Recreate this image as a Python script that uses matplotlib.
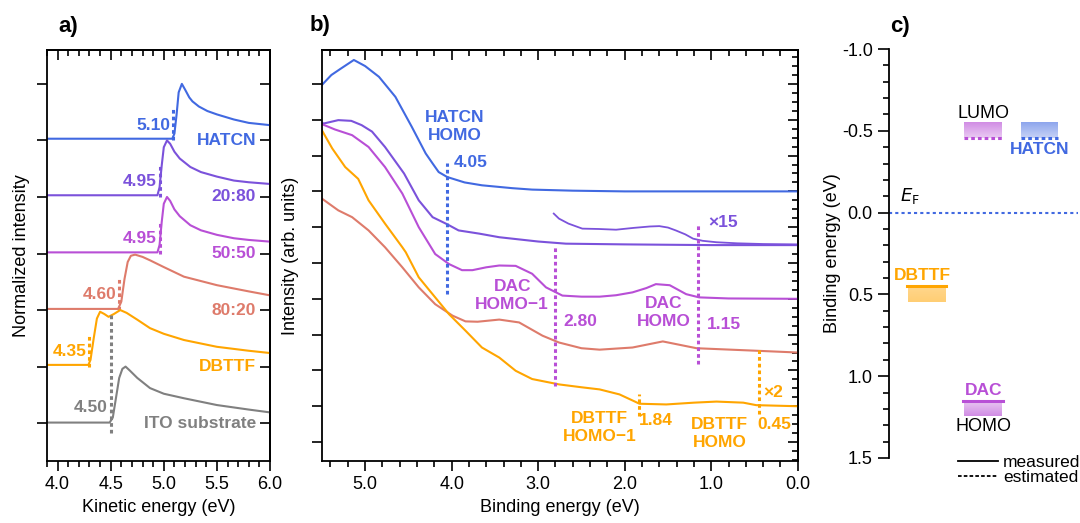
import numpy as np
import matplotlib
matplotlib.use("Agg")
import matplotlib.pyplot as plt
from matplotlib import colors
from matplotlib.lines import Line2D
from matplotlib.ticker import MultipleLocator, FormatStrFormatter

plt.rcParams['font.family'] = ['Liberation Sans', 'DejaVu Sans']
plt.rcParams['font.size'] = 13
plt.rcParams['axes.unicode_minus'] = False
plt.rcParams['axes.linewidth'] = 1.3

# colours
c_hatcn = '#4169E1'
c_2080 = '#7B52DB'
c_5050 = '#B84FD6'
c_8020 = '#DE7B6B'
c_dbttf = '#FFA500'
c_ito = '#808080'

# ---- panel a: secondary electron cutoff (kinetic energy, normalised, offset) ----
names_a = ['HATCN', '20:80', '50:50', '80:20', 'DBTTF', 'ITO substrate']
colors_a = [c_hatcn, c_2080, c_5050, c_8020, c_dbttf, c_ito]
offsets_a = [5, 4, 3, 2, 1, 0]
cutoff_labels = ['5.10', '4.95', '4.95', '4.60', '4.35', '4.50']
cutoff_x = [5.09, 4.965, 4.965, 4.58, 4.30, 4.50]

ke_hatcn = [3.9, 5.08, 5.10, 5.12, 5.14, 5.17, 5.20, 5.24, 5.27, 5.33, 5.41, 5.5, 5.66, 5.8, 6.0]
int_hatcn = [0.03, 0.03, 0.12, 0.45, 0.85, 1.0, 0.9, 0.76, 0.69, 0.6, 0.52, 0.46, 0.37, 0.31, 0.27]
ke_2080 = [3.9, 4.94, 4.96, 4.98, 5.00, 5.03, 5.06, 5.10, 5.15, 5.25, 5.35, 5.5, 5.66, 5.8, 6.0]
int_2080 = [0.03, 0.03, 0.17, 0.55, 0.88, 1.0, 0.94, 0.8, 0.68, 0.53, 0.44, 0.36, 0.29, 0.26, 0.23]
ke_5050 = [3.9, 4.94, 4.96, 4.98, 5.00, 5.03, 5.06, 5.10, 5.15, 5.25, 5.35, 5.5, 5.66, 5.8, 6.0]
int_5050 = [0.02, 0.02, 0.15, 0.55, 0.88, 1.0, 0.93, 0.78, 0.66, 0.5, 0.41, 0.33, 0.27, 0.24, 0.21]
ke_8020 = [3.9, 4.57, 4.60, 4.63, 4.66, 4.69, 4.73, 4.80, 4.87, 5.0, 5.19, 5.5, 5.8, 6.0]
int_8020 = [0.02, 0.02, 0.15, 0.55, 0.85, 0.96, 0.98, 0.94, 0.88, 0.76, 0.59, 0.44, 0.33, 0.26]
ke_dbttf = [3.9, 4.29, 4.31, 4.34, 4.37, 4.40, 4.44, 4.48, 4.53, 4.59, 4.65, 4.75, 4.87, 5.0, 5.19, 5.5, 5.8, 6.0]
int_dbttf = [0.03, 0.03, 0.12, 0.5, 0.85, 0.97, 0.93, 0.88, 0.93, 1.0, 0.95, 0.83, 0.68, 0.58, 0.47, 0.35, 0.28, 0.24]
ke_ito = [3.9, 4.49, 4.52, 4.55, 4.58, 4.61, 4.64, 4.68, 4.75, 4.87, 5.0, 5.19, 5.5, 5.8, 6.0]
int_ito = [0.01, 0.01, 0.1, 0.45, 0.8, 0.96, 1.0, 0.93, 0.8, 0.62, 0.52, 0.44, 0.32, 0.24, 0.19]

ke_all = [ke_hatcn, ke_2080, ke_5050, ke_8020, ke_dbttf, ke_ito]
int_all = [int_hatcn, int_2080, int_5050, int_8020, int_dbttf, int_ito]

# ---- panel b: valence region (binding energy, offset) ----
be_hatcn = [5.5, 5.39, 5.28, 5.13, 5.0, 4.84, 4.65, 4.46, 4.38, 4.30, 4.22, 4.15, 4.05, 3.85, 3.65, 3.3, 3.07, 2.6, 2.0, 1.0, 0.0]
ib_hatcn = [9.97, 10.25, 10.43, 10.67, 10.5, 10.2, 9.64, 8.8, 8.43, 8.06, 7.78, 7.54, 7.4, 7.25, 7.17, 7.09, 7.05, 7.02, 7.0, 7.0, 7.0]
be_2080 = [5.5, 5.47, 5.31, 5.16, 5.04, 4.92, 4.77, 4.55, 4.38, 4.22, 4.05, 3.92, 3.68, 3.45, 3.0, 2.68, 2.0, 1.52, 1.0, 0.0]
ib_2080 = [8.9, 8.9, 8.99, 8.97, 8.85, 8.67, 8.24, 7.5, 6.75, 6.28, 6.08, 5.91, 5.82, 5.72, 5.6, 5.54, 5.52, 5.51, 5.5, 5.5]
be_x15 = [2.82, 2.76, 2.65, 2.49, 2.3, 2.1, 1.9, 1.71, 1.6, 1.5, 1.41, 1.3, 1.21, 1.1, 0.94, 0.7, 0.4, 0.0]
ib_x15 = [6.38, 6.24, 6.1, 5.96, 5.95, 5.93, 5.98, 6.02, 6.03, 5.99, 5.91, 5.8, 5.68, 5.62, 5.58, 5.55, 5.53, 5.52]
be_5050 = [5.5, 5.35, 5.15, 4.96, 4.77, 4.57, 4.38, 4.19, 4.03, 3.88, 3.76, 3.6, 3.45, 3.26, 3.07, 2.91, 2.72, 2.5, 2.29, 2.1, 1.91, 1.75, 1.64, 1.48, 1.29, 1.14, 0.8, 0.0]
ib_5050 = [8.88, 8.73, 8.57, 8.24, 7.68, 6.94, 6.0, 5.25, 4.97, 4.80, 4.80, 4.88, 4.93, 4.92, 4.70, 4.32, 4.09, 4.06, 4.06, 4.1, 4.18, 4.3, 4.41, 4.38, 4.13, 4.04, 4.01, 4.0]
be_8020 = [5.5, 5.31, 5.15, 4.96, 4.77, 4.57, 4.38, 4.19, 3.99, 3.84, 3.7, 3.45, 3.22, 2.95, 2.76, 2.5, 2.29, 1.91, 1.56, 1.17, 0.48, 0.0]
ib_8020 = [6.8, 6.47, 6.28, 5.91, 5.44, 4.88, 4.32, 3.85, 3.53, 3.37, 3.36, 3.42, 3.34, 2.97, 2.78, 2.62, 2.58, 2.64, 2.81, 2.62, 2.55, 2.5]
be_dbttf = [5.5, 5.38, 5.23, 5.08, 4.96, 4.77, 4.57, 4.53, 4.38, 4.19, 4.03, 3.84, 3.65, 3.45, 3.26, 3.07, 2.76, 2.5, 2.29, 2.06, 1.9, 1.83, 1.52, 1.2, 0.94, 0.63, 0.48, 0.0]
ib_dbttf = [8.71, 8.2, 7.68, 7.35, 6.75, 6.1, 5.44, 5.3, 4.6, 4.04, 3.57, 3.11, 2.64, 2.36, 1.99, 1.76, 1.61, 1.53, 1.47, 1.33, 1.15, 1.07, 1.05, 1.1, 1.13, 1.10, 1.03, 1.0]

# onset markers in b: (position, y from, y to, colour)
onsets_b = [(4.05, 4.14, 7.78, c_hatcn), (2.80, 1.57, 5.44, c_5050), (1.15, 2.18, 6.1, c_5050),
            (1.84, 0.73, 1.33, c_dbttf), (0.45, 0.78, 2.64, c_dbttf)]

# ---- panel c: energy levels ----
dbttf_homo = 0.45
dac_homo = 1.15
dac_lumo = -0.455
hatcn_lumo = -0.455
band_width = 0.095

fig = plt.figure(figsize=(10.8, 5.23), dpi=100)
ax_a = fig.add_axes([0.0435, 0.1185, 0.2065, 0.786])
ax_b = fig.add_axes([0.298, 0.1185, 0.4407, 0.786])
ax_c = fig.add_axes([0.823, 0.1243, 0.175, 0.7820])

dot = (0, (1.2, 1.0))
MAJ, MIN = 7.5, 4

# panel a
for ke, inten, off, col, name, lab, cx in zip(ke_all, int_all, offsets_a, colors_a, names_a,
                                               cutoff_labels, cutoff_x):
    ax_a.plot(ke, np.array(inten) + off, color=col, lw=1.5)
    if name == 'ITO substrate':
        ax_a.plot([cx, cx], [off - 0.17, off + 1.93], color=col, lw=2.2, ls=dot)
    else:
        ax_a.plot([cx, cx], [off, off + 0.57], color=col, lw=2.2, ls=dot)
    ax_a.text(cx - 0.03, off + 0.27, lab, color=col, fontsize=12.5, fontweight='bold',
              ha='right', va='center')
    ax_a.text(5.87, off, name, color=col, fontsize=12.5, fontweight='bold', ha='right', va='center')

ax_a.set_xlim(3.9, 6.0)
ax_a.set_ylim(-0.67, 6.6)
ax_a.xaxis.set_major_locator(MultipleLocator(0.5))
ax_a.xaxis.set_minor_locator(MultipleLocator(0.1))
ax_a.xaxis.set_major_formatter(FormatStrFormatter('%.1f'))
ax_a.set_yticks(range(0, 7))
ax_a.tick_params(axis='x', which='both', top=False, direction='out')
ax_a.tick_params(axis='y', which='both', right=False, labelleft=False, direction='out')
ax_a.tick_params(which='major', length=MAJ, width=1.2)
ax_a.tick_params(which='minor', length=MIN, width=1.2)
ax_a_r = ax_a.secondary_yaxis('right')
ax_a_r.set_yticks(range(0, 7))
ax_a_r.tick_params(direction='in', length=MAJ, width=1.2, labelright=False)
ax_a_t = ax_a.secondary_xaxis('top')
ax_a_t.xaxis.set_major_locator(MultipleLocator(0.5))
ax_a_t.xaxis.set_minor_locator(MultipleLocator(0.1))
ax_a_t.tick_params(which='both', direction='in', width=1.2, labeltop=False)
ax_a_t.tick_params(which='major', length=MAJ)
ax_a_t.tick_params(which='minor', length=MIN)
ax_a.set_xlabel('Kinetic energy (eV)')
ax_a.set_ylabel('Normalized intensity', labelpad=5)
ax_a.text(0.05, 1.058, 'a)', transform=ax_a.transAxes, fontsize=16, fontweight='bold', va='center')

# panel b
ax_b.plot(be_hatcn, ib_hatcn, color=c_hatcn, lw=1.5)
ax_b.plot(be_2080, ib_2080, color=c_2080, lw=1.5)
ax_b.plot(be_x15, ib_x15, color=c_2080, lw=1.3)
ax_b.plot(be_5050, ib_5050, color=c_5050, lw=1.5)
ax_b.plot(be_8020, ib_8020, color=c_8020, lw=1.5)
ax_b.plot(be_dbttf, ib_dbttf, color=c_dbttf, lw=1.5)
for x, y0, y1, col in onsets_b:
    ax_b.plot([x, x], [y0, y1], color=col, lw=2.2, ls=dot)

bold = dict(fontsize=12.5, fontweight='bold')
ax_b.text(3.96, 8.82, 'HATCN\nHOMO', color=c_hatcn, ha='center', va='center', linespacing=1.25, **bold)
ax_b.text(3.97, 7.8, '4.05', color=c_hatcn, ha='left', va='center', **bold)
ax_b.text(1.04, 6.12, '×15', color=c_2080, ha='left', va='center', **bold)
ax_b.text(3.30, 4.09, 'DAC\nHOMO−1', color=c_5050, ha='center', va='center', linespacing=1.25, **bold)
ax_b.text(2.71, 3.37, '2.80', color=c_5050, ha='left', va='center', **bold)
ax_b.text(1.55, 3.62, 'DAC\nHOMO', color=c_5050, ha='center', va='center', linespacing=1.25, **bold)
ax_b.text(1.05, 3.28, '1.15', color=c_5050, ha='left', va='center', **bold)
ax_b.text(0.40, 1.38, '×2', color=c_dbttf, ha='left', va='center', **bold)
ax_b.text(2.29, 0.4, 'DBTTF\nHOMO−1', color=c_dbttf, ha='center', va='center', linespacing=1.25, **bold)
ax_b.text(1.84, 0.59, '1.84', color=c_dbttf, ha='left', va='center', **bold)
ax_b.text(0.90, 0.23, 'DBTTF\nHOMO', color=c_dbttf, ha='center', va='center', linespacing=1.25, **bold)
ax_b.text(0.47, 0.5, '0.45', color=c_dbttf, ha='left', va='center', **bold)

ax_b.set_xlim(5.5, 0.0)
ax_b.set_ylim(-0.53, 10.95)
ax_b.xaxis.set_major_locator(MultipleLocator(1.0))
ax_b.xaxis.set_minor_locator(MultipleLocator(0.2))
ax_b.xaxis.set_major_formatter(FormatStrFormatter('%.1f'))
ax_b.set_yticks(range(0, 11))
ax_b.tick_params(axis='x', which='both', direction='out', width=1.2)
ax_b.tick_params(axis='y', which='both', labelleft=False, direction='out', width=1.2)
ax_b.tick_params(which='major', length=MAJ)
ax_b.tick_params(which='minor', length=MIN)
ax_b_t = ax_b.secondary_xaxis('top')
ax_b_t.xaxis.set_major_locator(MultipleLocator(1.0))
ax_b_t.xaxis.set_minor_locator(MultipleLocator(0.2))
ax_b_t.tick_params(which='both', direction='in', width=1.2, labeltop=False)
ax_b_t.tick_params(which='major', length=MAJ)
ax_b_t.tick_params(which='minor', length=MIN)
ax_b_r = ax_b.secondary_yaxis('right')
ax_b_r.yaxis.set_major_locator(MultipleLocator(1.0))
ax_b_r.yaxis.set_minor_locator(MultipleLocator(0.25))
ax_b_r.tick_params(which='both', direction='in', width=1.2, labelright=False)
ax_b_r.tick_params(which='major', length=MAJ)
ax_b_r.tick_params(which='minor', length=MIN)
ax_b.set_xlabel('Binding energy (eV)')
ax_b.set_ylabel('Intensity (arb. units)', labelpad=9)
ax_b.text(-0.025, 1.06, 'b)', transform=ax_b.transAxes, fontsize=16, fontweight='bold', va='center')


# panel c
def band(ax, x0, x1, y_line, y_far, col, a_near, a_far):
    rgb = colors.to_rgb(col)
    n = 50
    grad = np.zeros((n, 1, 4))
    grad[:, 0, :3] = rgb
    grad[:, 0, 3] = np.linspace(a_near, a_far, n)
    ax.imshow(grad, extent=(x0, x1, y_far, y_line), origin='upper', aspect='auto',
              interpolation='bilinear', zorder=1)


band(ax_c, 0.10, 0.30, dbttf_homo, dbttf_homo + band_width, c_dbttf, 0.45, 0.55)
ax_c.plot([0.095, 0.305], [dbttf_homo, dbttf_homo], color=c_dbttf, lw=2.2, zorder=2)
band(ax_c, 0.40, 0.60, dac_homo, dac_homo + band_width, c_5050, 0.3, 0.65)
ax_c.plot([0.39, 0.605], [dac_homo, dac_homo], color=c_5050, lw=2.2, zorder=2)
band(ax_c, 0.40, 0.60, dac_lumo, dac_lumo - band_width, c_5050, 0.3, 0.65)
ax_c.plot([0.40, 0.60], [dac_lumo, dac_lumo], color=c_5050, lw=2.2, ls=dot, zorder=2)
band(ax_c, 0.70, 0.895, hatcn_lumo, hatcn_lumo - band_width, c_hatcn, 0.3, 0.6)
ax_c.plot([0.70, 0.895], [hatcn_lumo, hatcn_lumo], color=c_hatcn, lw=2.2, ls=dot, zorder=2)
ax_c.plot([0, 1], [0, 0], color=c_hatcn, lw=1.5, ls=(0, (1.5, 1.5)))

ax_c.text(0.058, -0.04, '$E_\\mathrm{F}$', fontsize=13, ha='left', va='bottom')
ax_c.text(0.50, -0.603, 'LUMO', fontsize=13, ha='center', va='center')
ax_c.text(0.50, 1.31, 'HOMO', fontsize=13, ha='center', va='center')
ax_c.text(0.50, 1.09, 'DAC', color=c_5050, ha='center', va='center', **bold)
ax_c.text(0.18, 0.385, 'DBTTF', color=c_dbttf, ha='center', va='center', **bold)
ax_c.text(0.80, -0.385, 'HATCN', color=c_hatcn, ha='center', va='center', **bold)

handles = [Line2D([], [], color='black', lw=1.3),
           Line2D([], [], color='black', lw=1.3, ls=(0, (2, 1.2)))]
ax_c.legend(handles, ['measured', 'estimated'], loc='upper left', bbox_to_anchor=(0.365, 0.008),
            frameon=False, fontsize=12.5, handlelength=2.3, handletextpad=0.3,
            labelspacing=0.0, borderpad=0, borderaxespad=0)

ax_c.set_xlim(0, 1)
ax_c.set_ylim(1.5, -1.0)
ax_c.yaxis.set_major_locator(MultipleLocator(0.5))
ax_c.yaxis.set_minor_locator(MultipleLocator(0.1))
ax_c.yaxis.set_major_formatter(FormatStrFormatter('%.1f'))
ax_c.tick_params(axis='y', which='both', direction='out', width=1.2)
ax_c.tick_params(axis='y', which='major', length=8)
ax_c.tick_params(axis='y', which='minor', length=4.5)
ax_c.set_xticks([])
for side in ['top', 'right', 'bottom']:
    ax_c.spines[side].set_visible(False)
ax_c.set_ylabel('Binding energy (eV)', labelpad=1)
ax_c.text(0.005, 1.056, 'c)', transform=ax_c.transAxes, fontsize=16, fontweight='bold', va='center')

fig.savefig('out.png', dpi=100)
